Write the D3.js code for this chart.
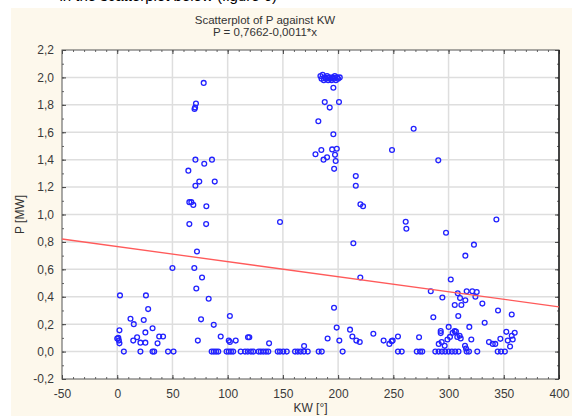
<!DOCTYPE html>
<html>
<head>
<meta charset="utf-8">
<script src="https://cdn.jsdelivr.net/npm/d3@7"></script>
<style>
  body { margin: 0; background: #fff; }
  svg { display: block; font-family: "Liberation Sans", Arial, sans-serif; }
</style>
</head>
<body>
<div id="chart"></div>
<script>
// KW [deg] / P [MW] pairs, grouped by direction range
const lowKW = [
  [2.5,0.41],[26,0.41],[28,0.31],[12,0.24],[24,0.23],[15,0.20],[32,0.17],[2,0.155],[25.5,0.14],
  [0,0.095],[1,0.1],[2,0.06],[1.5,0.08],[18,0.105],[14.5,0.08],[21,0.065],[25.5,0.065],[36.5,0.06],
  [38,0.11],[41.5,0.11],[6,0],[21,0],[32,0],[33.5,0],[46,0],[51,0],[50,0.61]
];
const eastKW = [
  [78.3,1.96],[71.3,1.81],[70.5,1.78],[70,1.77],[70.8,1.40],[85.8,1.40],[78.8,1.37],[64.4,1.32],
  [74.3,1.24],[88.3,1.24],[70.8,1.21],[65.3,1.09],[67.1,1.09],[68.9,1.07],[80.7,1.06],[65.3,0.93],
  [80.5,0.93],[72.2,0.73],[69.8,0.61],[76.8,0.54],[71.6,0.46],[82.8,0.385],[75.9,0.235],[87.4,0.195],
  [102,0.26],[73,0.08],[93.7,0.11],[101,0.08],[102,0.07],[107.3,0.08],[85.5,0],[87.5,0],[89.5,0],
  [91.5,0],[99,0],[101,0],[103,0],[105,0]
];
const southEastKW = [
  [118.4,0.105],[119.6,0.105],[137.5,0.06],[147.4,0.945],[169.2,0.04],[111.8,0],[115.7,0],[118.2,0],
  [121.1,0],[123.2,0],[128,0],[130,0],[132.3,0],[134.7,0],[136.8,0],[145.3,0],[147.4,0],[150.4,0],
  [153.5,0],[161,0],[163.5,0],[166.1,0],[169.1,0],[172.5,0],[182.4,0],[185.2,0]
];
const southKW = [
  [184,2.01],[185,1.99],[186,2.02],[187,1.98],[188,2.0],[189,1.99],[190,2.01],[191,1.98],[192,2.0],
  [193,1.99],[194,1.98],[195,2.0],[196,1.99],[197,2.01],[198,1.98],[199,2.0],[200,1.99],[201.5,2.0],
  [195.7,1.925],[187.9,1.82],[200.8,1.82],[192.4,1.78],[182.1,1.68],[195.7,1.585],[184.8,1.47],
  [179.5,1.44],[194.6,1.475],[198.8,1.48],[190,1.417],[186.8,1.40],[197.2,1.435],[197.8,1.39],
  [196.4,1.333],[216,1.28],[216,1.21],[220.2,1.075],[222.6,1.06],[213.8,0.79],[220.1,0.54],
  [196.3,0.32],[198.7,0.175],[190.5,0.095],[201.1,0.08],[204.1,0],[210.8,0.16],[212.9,0.11],
  [216.5,0.08],[219.6,0.07],[231.9,0.13]
];
const westKW = [
  [268.4,1.625],[248.8,1.47],[290.7,1.395],[261.2,0.947],[261.8,0.896],[297.7,0.867],[283.9,0.44],
  [294.4,0.395],[286.2,0.25],[241.2,0.08],[246.4,0.056],[248.5,0.076],[249.4,0.08],[254.2,0.11],
  [273.3,0.105],[292.9,0.15],[292.9,0.135],[291.1,0.056],[293.8,0.069],[296.5,0.042],[299,0.088],
  [254.2,0],[257.6,0],[271.2,0],[274.2,0],[276.2,0],[288,0],[291,0],[294,0],[297,0]
];
const northKW = [
  [343.3,0.964],[323,0.78],[315.2,0.70],[302,0.526],[308.3,0.426],[316.4,0.44],[321.5,0.44],
  [325.5,0.435],[310.4,0.39],[315.2,0.375],[324.3,0.40],[305.6,0.34],[311.6,0.34],[330.6,0.35],
  [344.8,0.30],[357.2,0.27],[308.8,0.26],[332.7,0.21],[300.1,0.18],[318.8,0.18],[301.3,0.107],
  [303.7,0.137],[305.5,0.149],[306.7,0.147],[307.9,0.107],[310,0.115],[311,0.096],[314.9,0.042],
  [315.8,0.023],[320.6,0.088],[336.6,0.069],[340,0.056],[342.3,0.056],[346.9,0.093],[352.3,0.144],
  [353.6,0.08],[355.7,0.037],[357.2,0.115],[358.1,0.088],[359.9,0.137],[300,0],[303,0],[306,0],
  [309,0],[316.4,0],[318.5,0],[326,0],[344.5,0],[347.5,0],[351,0]
];

// fitted line P = a + b*x
const intercept = 0.7662;
const slope = -0.0011;

const xTicks = [-50, 0, 50, 100, 150, 200, 250, 300, 350, 400];
const yTicks = [-0.2, 0, 0.2, 0.4, 0.6, 0.8, 1.0, 1.2, 1.4, 1.6, 1.8, 2.0, 2.2];

const W = 572, H = 416;
const margin = {top: 50, right: 13, bottom: 37, left: 62};

const svg = d3.select("#chart").append("svg")
    .attr("width", W)
    .attr("height", H);

// bottom edge of the surrounding document text, cut off at the top
svg.append("text")
    .attr("x", 277).attr("y", 1)
    .attr("text-anchor", "end")
    .attr("font-size", 15)
    .attr("fill", "#000")
    .text("in the scatterplot below (figure 6)");

svg.append("rect")
    .attr("x", 11).attr("y", 8)
    .attr("width", W - 11).attr("height", H - 8)
    .attr("fill", "#fdf8ec");

const x = d3.scaleLinear().domain([-50, 400]).range([margin.left, W - margin.right]);
const y = d3.scaleLinear().domain([-0.2, 2.2]).range([H - margin.bottom, margin.top]);

const fmt = v => d3.format(".1f")(v).replace(".", ",").replace("−", "-");

svg.append("rect")
    .attr("x", x(-50)).attr("y", y(2.2))
    .attr("width", x(400) - x(-50)).attr("height", y(-0.2) - y(2.2))
    .attr("fill", "#fff");

// grid
const grid = svg.append("g").attr("stroke", "#dedede").attr("stroke-width", 1.5);
grid.selectAll(".gx")
  .data(xTicks.slice(1, -1))
  .join("line")
    .attr("x1", d => x(d)).attr("x2", d => x(d))
    .attr("y1", y(2.2)).attr("y2", y(-0.2));
grid.selectAll(".gy")
  .data(yTicks.slice(1, -1))
  .join("line")
    .attr("x1", x(-50)).attr("x2", x(400))
    .attr("y1", d => y(d)).attr("y2", d => y(d));

// minor ticks every 10 deg / 0.1 MW
const xMinor = d3.range(-50, 401, 10);
const yMinor = d3.range(-2, 23).map(d => d / 10);

function addAxis(axisFn, scale, major, minor, tx, ty, labels) {
  svg.append("g")
      .attr("transform", `translate(${tx},${ty})`)
      .call(axisFn(scale).tickValues(minor).tickSize(-2).tickFormat(""))
      .call(g => g.select(".domain").remove())
      .call(g => g.selectAll("line").attr("stroke", "#666"));
  const g = svg.append("g")
      .attr("transform", `translate(${tx},${ty})`)
      .call(axisFn(scale).tickValues(major).tickSize(-4).tickPadding(labels ? 8 : 0)
        .tickFormat(labels ? labels : ""));
  g.select(".domain").remove();
  g.selectAll("line").attr("stroke", "#444");
  g.selectAll("text")
      .attr("font-size", 12)
      .attr("fill", "#3a3a3a")
      .attr("font-family", "Liberation Sans, Arial, sans-serif");
  return g;
}

addAxis(d3.axisLeft, y, yTicks, yMinor, x(-50), 0, fmt);
addAxis(d3.axisRight, y, yTicks, yMinor, x(400), 0, null);
addAxis(d3.axisBottom, x, xTicks, xMinor, 0, y(-0.2), d => String(d))
  .selectAll("text").attr("dy", "0.9em");
addAxis(d3.axisTop, x, xTicks, xMinor, 0, y(2.2), null);

// frame
svg.append("rect")
    .attr("x", x(-50)).attr("y", y(2.2))
    .attr("width", x(400) - x(-50)).attr("height", y(-0.2) - y(2.2))
    .attr("fill", "none")
    .attr("stroke", "#555");
svg.append("line")
    .attr("x1", x(400)).attr("x2", x(400))
    .attr("y1", y(2.2)).attr("y2", y(-0.2))
    .attr("stroke", "#222").attr("stroke-width", 1.5);

// points
const points = [].concat(lowKW, eastKW, southEastKW, southKW, westKW, northKW);
svg.append("g")
  .selectAll("circle")
  .data(points)
  .join("circle")
    .attr("cx", d => x(d[0]))
    .attr("cy", d => y(d[1]))
    .attr("r", 2.4)
    .attr("fill", "none")
    .attr("stroke", "#2222ff")
    .attr("stroke-width", 1.3);

// regression line
svg.append("line")
    .attr("x1", x(-50)).attr("y1", y(intercept + slope * -50))
    .attr("x2", x(400)).attr("y2", y(intercept + slope * 400))
    .attr("stroke", "#ff5a5a")
    .attr("stroke-width", 1.3);

// titles
svg.append("text")
    .attr("x", 265).attr("y", 24)
    .attr("text-anchor", "middle")
    .attr("font-size", 11.5)
    .attr("fill", "#333")
    .text("Scatterplot of P against KW");
svg.append("text")
    .attr("x", 265).attr("y", 36)
    .attr("text-anchor", "middle")
    .attr("font-size", 11.5)
    .attr("fill", "#333")
    .text("P = 0,7662-0,0011*x");

svg.append("text")
    .attr("transform", `translate(24,${(y(2.2) + y(-0.2)) / 2}) rotate(-90)`)
    .attr("text-anchor", "middle")
    .attr("font-size", 12)
    .attr("fill", "#333")
    .text("P [MW]");
svg.append("text")
    .attr("x", (x(-50) + x(400)) / 2).attr("y", 412)
    .attr("text-anchor", "middle")
    .attr("font-size", 12)
    .attr("fill", "#333")
    .text("KW [°]");
</script>
</body>
</html>
